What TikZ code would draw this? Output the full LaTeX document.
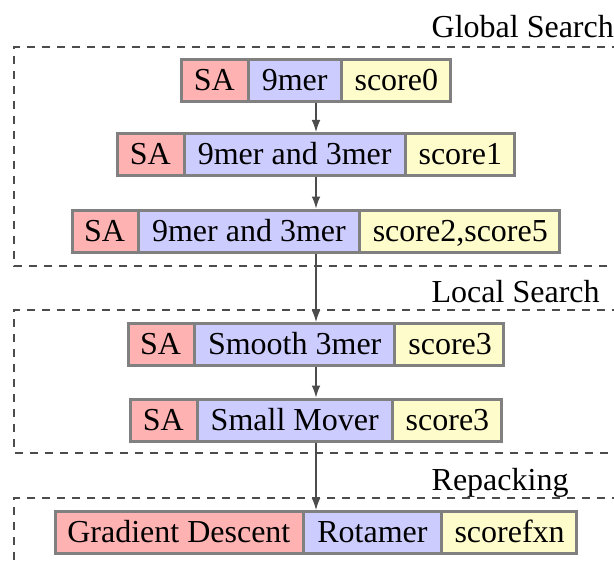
\documentclass[tikz,border=0pt]{standalone}
\usepackage{fontspec}
\setmainfont{Liberation Serif}
\usetikzlibrary{shapes.multipart,arrows.meta}

% fixed height/depth so that all parts share one baseline
\newcommand\stagestrut{\rule[-3pt]{0pt}{12pt}}

\begin{document}
\begin{tikzpicture}[x=0.3pt,y=-0.3pt,
  font=\fontsize{9.6pt}{11pt}\selectfont,
  stage/.style={rectangle split, rectangle split horizontal, rectangle split parts=3,
    rectangle split part fill={red!30,blue!20,yellow!20},
    draw=gray, line width=0.9pt, inner xsep=3.6pt, inner ysep=0.3pt},
  flow/.style={draw=black!70, line width=0.35pt, -{Latex[length=3.6pt,width=2.6pt]}},
  frame/.style={draw=black!70, line width=0.35pt, dash pattern=on 2.4pt off 2.1pt},
  phase/.style={anchor=base west, inner sep=0pt}]
\useasboundingbox (0,0) rectangle (614,562);
\clip (0,0) rectangle (614,562);

% phase frames (open to the right and below)
\draw[frame] (620,47) -- (14,47) -- (14,266) -- (620,266);
\draw[frame] (620,310) -- (14,310) -- (14,453) -- (620,453);
\draw[frame] (620,498) -- (14,498) -- (14,570);

% phase titles
\node[phase] (gs) at (431,38) {Global Search};
\node[phase] (ls) at (431,302) {Local Search};
\node[phase] (rp) at (431,490) {Repacking};

% stages
\node[stage] (s1) at (316,80.5)
  {\stagestrut SA\nodepart{two}\stagestrut 9mer\nodepart{three}\stagestrut score0};
\node[stage] (s2) at (316,154.5)
  {\stagestrut SA\nodepart{two}\stagestrut 9mer and 3mer\nodepart{three}\stagestrut score1};
\node[stage] (s3) at (316,231)
  {\stagestrut SA\nodepart{two}\stagestrut 9mer and 3mer\nodepart{three}\stagestrut score2,score5};
\node[stage] (s4) at (316,344.5)
  {\stagestrut SA\nodepart{two}\stagestrut Smooth 3mer\nodepart{three}\stagestrut score3};
\node[stage] (s5) at (316,420)
  {\stagestrut SA\nodepart{two}\stagestrut Small Mover\nodepart{three}\stagestrut score3};
\node[stage] (s6) at (316,532.5)
  {\stagestrut Gradient Descent\nodepart{two}\stagestrut Rotamer\nodepart{three}\stagestrut scorefxn};

% flow between stages
\draw[flow] (s1.south) -- (s2.north);
\draw[flow] (s2.south) -- (s3.north);
\draw[flow] (s3.south) -- (s4.north);
\draw[flow] (s4.south) -- (s5.north);
\draw[flow] (s5.south) -- (s6.north);
\end{tikzpicture}
\end{document}
